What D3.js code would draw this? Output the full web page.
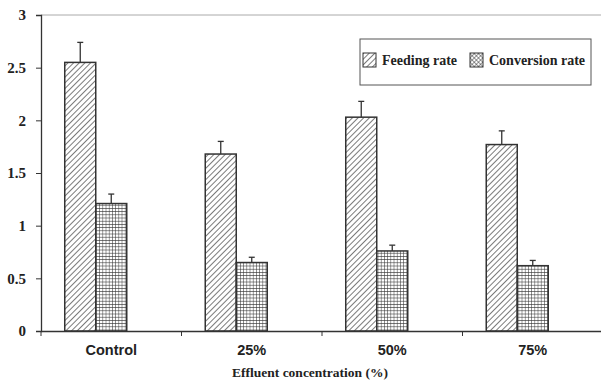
<!DOCTYPE html>
<html>
<head>
<meta charset="utf-8">
<script src="https://cdn.jsdelivr.net/npm/d3@7"></script>
<style>
  body { margin: 0; background: #fff; }
  svg { display: block; }
  .serif { font-family: "Liberation Serif", "Times New Roman", Times, serif; font-weight: bold; }
  .sans { font-family: "Liberation Sans", Arial, Helvetica, sans-serif; font-weight: bold; }
</style>
</head>
<body>
<svg width="601" height="386"></svg>
<script>
var categories = ['Control', '25%', '50%', '75%'];
var seriesNames = ['Feeding rate', 'Conversion rate'];
var feeding = [2.55, 1.68, 2.03, 1.77];
var feedingErr = [0.19, 0.12, 0.15, 0.13];
var conversion = [1.21, 0.65, 0.76, 0.62];
var conversionErr = [0.09, 0.05, 0.055, 0.05];
var yTicks = [0, 0.5, 1, 1.5, 2, 2.5, 3];

var svg = d3.select('svg');
var margin = {top: 15, left: 41, bottom: 55};

var defs = svg.append('defs');

// diagonal hatch for feeding rate
var hatch = defs.append('pattern')
    .attr('id', 'hatch')
    .attr('patternUnits', 'userSpaceOnUse')
    .attr('width', 4).attr('height', 4)
    .attr('patternTransform', 'rotate(45)');
hatch.append('rect').attr('width', 4).attr('height', 4).attr('fill', '#fff');
hatch.append('line')
    .attr('x1', 0).attr('y1', 0).attr('x2', 0).attr('y2', 4)
    .attr('stroke', '#333').attr('stroke-width', 1.3);

// square grid for conversion rate
var grid = defs.append('pattern')
    .attr('id', 'grid')
    .attr('patternUnits', 'userSpaceOnUse')
    .attr('width', 3.2).attr('height', 3.2);
grid.append('rect').attr('width', 3.2).attr('height', 3.2).attr('fill', '#fff');
grid.append('path')
    .attr('d', 'M0,0H3.2M0,0V3.2')
    .attr('stroke', '#333').attr('stroke-width', 1);

// checker used in the legend swatch
var check = defs.append('pattern')
    .attr('id', 'check')
    .attr('patternUnits', 'userSpaceOnUse')
    .attr('width', 3).attr('height', 3)
    .attr('patternTransform', 'rotate(45)');
check.append('rect').attr('width', 3).attr('height', 3).attr('fill', '#fff');
check.append('path')
    .attr('d', 'M0,0H3M0,0V3')
    .attr('stroke', '#333').attr('stroke-width', 1);

var x0 = d3.scaleBand()
    .domain(categories)
    .range([margin.left, 603])
    .paddingInner(0).paddingOuter(0);

// third slot left empty, like the original spreadsheet layout
var x1 = d3.scaleBand()
    .domain(['feeding', 'conversion', 'empty'])
    .range([0, x0.bandwidth()])
    .paddingInner(0).paddingOuter(0.766);

var y = d3.scaleLinear()
    .domain([0, 3])
    .range([331, margin.top]);

// top line
svg.append('line')
    .attr('x1', margin.left).attr('x2', 601)
    .attr('y1', y(3)).attr('y2', y(3))
    .attr('stroke', '#aaa').attr('stroke-width', 1);

var flat = [];
categories.forEach(function(c, i) {
    flat.push({cat: c, key: 'feeding', v: feeding[i], e: feedingErr[i], fill: 'url(#hatch)'});
    flat.push({cat: c, key: 'conversion', v: conversion[i], e: conversionErr[i], fill: 'url(#grid)'});
});

function cx(d) { return x0(d.cat) + x1(d.key) + x1.bandwidth() / 2; }

svg.append('g')
    .selectAll('rect')
    .data(flat)
    .enter()
    .append('rect')
    .attr('x', function(d) { return x0(d.cat) + x1(d.key); })
    .attr('y', function(d) { return y(d.v); })
    .attr('width', x1.bandwidth())
    .attr('height', function(d) { return y(0) - y(d.v); })
    .attr('fill', function(d) { return d.fill; })
    .attr('stroke', '#333')
    .attr('stroke-width', 1.5);

// error bars (upper only)
var err = svg.append('g').attr('stroke', '#333').attr('stroke-width', 1.3);
err.selectAll('line.v')
    .data(flat)
    .enter()
    .append('line')
    .attr('class', 'v')
    .attr('x1', cx).attr('x2', cx)
    .attr('y1', function(d) { return y(d.v); })
    .attr('y2', function(d) { return y(d.v + d.e); });
err.selectAll('line.c')
    .data(flat)
    .enter()
    .append('line')
    .attr('class', 'c')
    .attr('x1', function(d) { return cx(d) - 3; })
    .attr('x2', function(d) { return cx(d) + 3; })
    .attr('y1', function(d) { return y(d.v + d.e); })
    .attr('y2', function(d) { return y(d.v + d.e); });

// y axis
var yAxis = svg.append('g')
    .attr('transform', 'translate(' + margin.left + ',0)')
    .call(d3.axisLeft(y).tickValues(yTicks).tickSize(5).tickPadding(10).tickFormat(d3.format('')));
yAxis.attr('font-family', null).attr('font-size', null);
yAxis.select('.domain').attr('stroke', '#333').attr('stroke-width', 1.3);
yAxis.selectAll('.tick line').attr('stroke', '#333');
yAxis.selectAll('text')
    .attr('class', 'serif')
    .style('font-size', '15px')
    .attr('fill', '#222');

// x axis
var xAxis = svg.append('g')
    .attr('transform', 'translate(0,' + y(0) + ')')
    .call(d3.axisBottom(x0).tickSize(0).tickPadding(14));
xAxis.attr('font-family', null).attr('font-size', null);
xAxis.select('.domain').attr('stroke', '#333').attr('stroke-width', 1.3);
xAxis.selectAll('text')
    .attr('class', 'sans')
    .style('font-size', '14.5px')
    .attr('fill', '#222');
xAxis.selectAll('line.bound')
    .data(categories)
    .enter()
    .append('line')
    .attr('class', 'bound')
    .attr('x1', function(d) { return x0(d); })
    .attr('x2', function(d) { return x0(d); })
    .attr('y1', 0).attr('y2', 5)
    .attr('stroke', '#333');

svg.append('text')
    .attr('class', 'serif')
    .attr('x', 310)
    .attr('y', 377)
    .attr('text-anchor', 'middle')
    .style('font-size', '13.5px')
    .attr('fill', '#222')
    .text('Effluent concentration (%)');

// legend
var legend = svg.append('g');
legend.append('rect')
    .attr('x', 360).attr('y', 39)
    .attr('width', 231).attr('height', 46)
    .attr('fill', '#fff')
    .attr('stroke', '#555').attr('stroke-width', 1);

var legItems = [
    {name: seriesNames[0], fill: 'url(#hatch)', x: 363},
    {name: seriesNames[1], fill: 'url(#check)', x: 470}
];
var li = legend.selectAll('g.item')
    .data(legItems)
    .enter()
    .append('g')
    .attr('class', 'item')
    .attr('transform', function(d) { return 'translate(' + d.x + ',53)'; });
li.append('rect')
    .attr('width', 13).attr('height', 14)
    .attr('fill', function(d) { return d.fill; })
    .attr('stroke', '#333').attr('stroke-width', 1);
li.append('text')
    .attr('class', 'serif')
    .attr('x', 19).attr('y', 12)
    .style('font-size', '14px')
    .attr('fill', '#222')
    .text(function(d) { return d.name; });
</script>
</body>
</html>
